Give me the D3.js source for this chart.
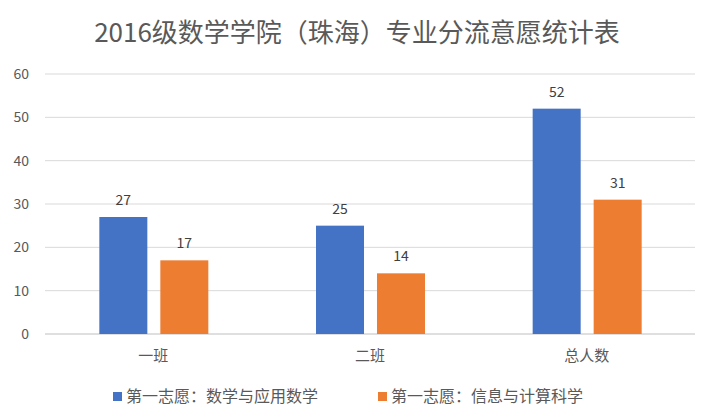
<!DOCTYPE html>
<html><head><meta charset="utf-8">
<script src="https://cdn.jsdelivr.net/npm/d3@7"></script>
<style>body{margin:0;background:#fff;}text{font-family:"Noto Sans CJK SC","Microsoft YaHei",sans-serif;}</style>
</head><body>
<svg id="c" width="715" height="417"></svg>
<script>
const title = "2016级数学学院（珠海）专业分流意愿统计表";
const categories = ["一班","二班","总人数"];
const seriesNames = ["第一志愿：数学与应用数学","第一志愿：信息与计算科学"];
const seriesA = [27,25,52];
const seriesB = [17,14,31];
const yTicks = [0,10,20,30,40,50,60];
const colors = ["#4472C4","#ED7D31"];

const svg = d3.select("#c");
const L=45,R=695,T=74,B=334;
const x = d3.scaleBand().domain(categories).range([L,R]);
const c = x.bandwidth()/2;
const x1 = d3.scaleBand().domain([0,1]).range([c-54,c+55]).paddingInner(0.213);

svg.append("text").attr("x",357).attr("y",42).attr("text-anchor","middle")
  .attr("font-size",26).attr("fill","#595959").text(title);

svg.append("g").selectAll("line").data(yTicks).join("line")
  .attr("x1",L).attr("x2",R).attr("y1",d=>y(d)).attr("y2",d=>y(d))
  .attr("stroke",d=>d===0?"#BFBFBF":"#D9D9D9").attr("stroke-width",1);
function y(d){return d3.scaleLinear().domain([0,60]).range([B,T])(d);}
svg.append("g").selectAll("text").data(yTicks).join("text")
  .attr("x",29).attr("y",d=>y(d)+5).attr("text-anchor","end")
  .attr("font-size",14).attr("fill","#595959").text(d=>d);

const series=[seriesA,seriesB];
series.forEach((s,i)=>{
  const g=svg.append("g");
  g.selectAll("rect").data(s).join("rect")
    .attr("x",(d,j)=>x(categories[j])+x1(i)).attr("width",x1.bandwidth())
    .attr("y",d=>y(d)).attr("height",d=>B-y(d)).attr("fill",colors[i]);
  g.selectAll("text").data(s).join("text")
    .attr("x",(d,j)=>x(categories[j])+x1(i)+x1.bandwidth()/2).attr("y",d=>y(d)-12)
    .attr("text-anchor","middle").attr("font-size",14).attr("fill","#404040").text(d=>d);
});

svg.append("g").selectAll("text").data(categories).join("text")
  .attr("x",d=>x(d)+x.bandwidth()/2).attr("y",361).attr("text-anchor","middle")
  .attr("font-size",15).attr("fill","#595959").text(d=>d);

const lx=[113,378];
seriesNames.forEach((n,i)=>{
  svg.append("rect").attr("x",lx[i]).attr("y",392).attr("width",9).attr("height",9).attr("fill",colors[i]);
  svg.append("text").attr("x",lx[i]+13).attr("y",402).attr("font-size",16).attr("fill","#595959").text(n);
});
</script>
</body></html>
